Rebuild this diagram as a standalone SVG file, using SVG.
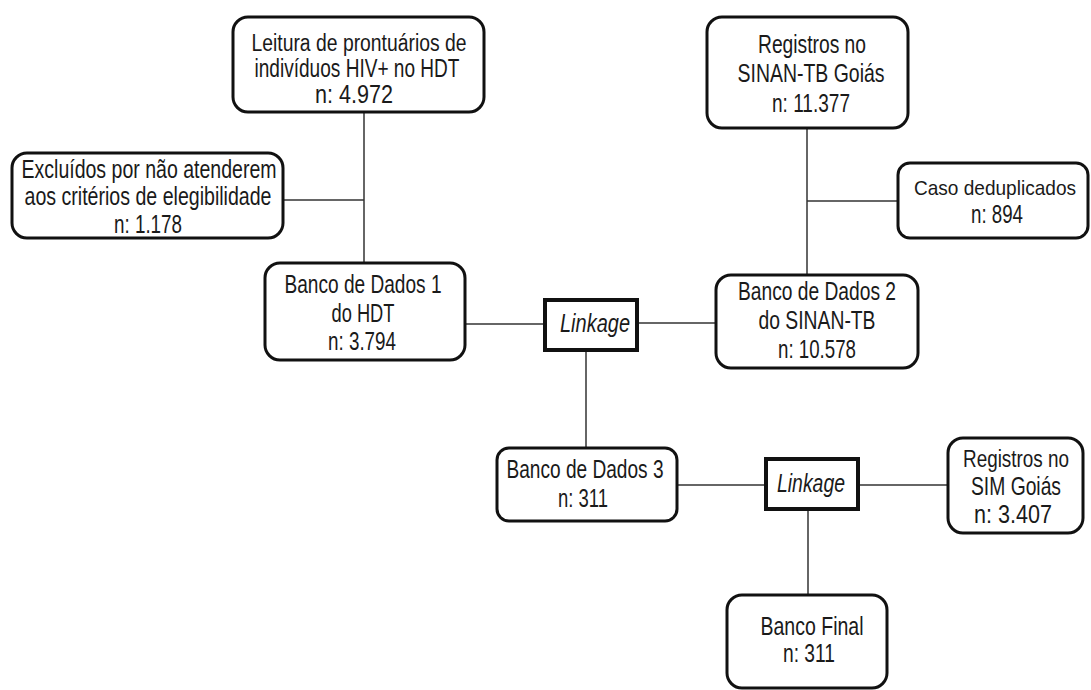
<svg xmlns="http://www.w3.org/2000/svg" width="1091" height="690" viewBox="0 0 1091 690">
<style>
.box{fill:#fff;stroke:#111;stroke-width:3}
.lk{fill:#fff;stroke:#111;stroke-width:4}
.c{stroke:#333;stroke-width:1.5;fill:none}
text{font-family:"Liberation Sans Narrow","Liberation Sans",Arial,sans-serif;font-size:25px;fill:#1a1a1a;text-anchor:middle}
.it{font-style:italic}
.sm{font-size:23px}
.xs{font-size:21px}
</style>
<rect width="1091" height="690" fill="#fff"/>
<g id="connectors">
<line class="c" x1="364" y1="112" x2="364" y2="263"/>
<line class="c" x1="283" y1="200" x2="364" y2="200"/>
<line class="c" x1="465" y1="324" x2="545" y2="324"/>
<line class="c" x1="637" y1="323" x2="716" y2="323"/>
<line class="c" x1="807" y1="128" x2="807" y2="275"/>
<line class="c" x1="807" y1="201" x2="898" y2="201"/>
<line class="c" x1="586" y1="350" x2="586" y2="448"/>
<line class="c" x1="677" y1="485" x2="766" y2="485"/>
<line class="c" x1="858" y1="485" x2="948" y2="485"/>
<line class="c" x1="808" y1="509" x2="808" y2="595"/>
</g>
<g id="n_leitura">
<rect class="box" x="233" y="17" width="251" height="95" rx="15"/>
<text class="sm" x="359" y="51" textLength="215" lengthAdjust="spacingAndGlyphs">Leitura de prontuários de</text>
<text x="357" y="77" textLength="205" lengthAdjust="spacingAndGlyphs">indivíduos HIV+ no HDT</text>
<text x="354" y="103" textLength="78" lengthAdjust="spacingAndGlyphs">n: 4.972</text>
</g>
<g id="n_excluidos">
<rect class="box" x="12" y="153" width="271" height="85" rx="15"/>
<text x="149" y="178" textLength="255" lengthAdjust="spacingAndGlyphs">Excluídos por não atenderem</text>
<text x="148" y="205" textLength="247" lengthAdjust="spacingAndGlyphs">aos critérios de elegibilidade</text>
<text x="148" y="233" textLength="68" lengthAdjust="spacingAndGlyphs">n: 1.178</text>
</g>
<g id="n_banco1">
<rect class="box" x="265" y="263" width="200" height="97" rx="15"/>
<text x="363" y="293" textLength="157" lengthAdjust="spacingAndGlyphs">Banco de Dados 1</text>
<text x="363" y="322" textLength="63" lengthAdjust="spacingAndGlyphs">do HDT</text>
<text x="362" y="350" textLength="68" lengthAdjust="spacingAndGlyphs">n: 3.794</text>
</g>
<g id="n_linkage1">
<rect class="lk" x="545" y="300" width="92" height="50"/>
<text class="it" x="595" y="332" textLength="70" lengthAdjust="spacingAndGlyphs">Linkage</text>
</g>
<g id="n_sinan">
<rect class="box" x="707" y="17" width="201" height="111" rx="15"/>
<text x="812" y="53" textLength="108" lengthAdjust="spacingAndGlyphs">Registros no</text>
<text x="811" y="82" textLength="147" lengthAdjust="spacingAndGlyphs">SINAN-TB Goiás</text>
<text x="811" y="112" textLength="78" lengthAdjust="spacingAndGlyphs">n: 11.377</text>
</g>
<g id="n_caso">
<rect class="box" x="898" y="163" width="190" height="75" rx="12"/>
<text class="xs" x="995" y="195" textLength="162" lengthAdjust="spacingAndGlyphs">Caso deduplicados</text>
<text x="997" y="223" textLength="52" lengthAdjust="spacingAndGlyphs">n: 894</text>
</g>
<g id="n_banco2">
<rect class="box" x="716" y="275" width="202" height="93" rx="15"/>
<text x="817" y="300" textLength="158" lengthAdjust="spacingAndGlyphs">Banco de Dados 2</text>
<text x="817" y="329" textLength="117" lengthAdjust="spacingAndGlyphs">do SINAN-TB</text>
<text x="817" y="358" textLength="78" lengthAdjust="spacingAndGlyphs">n: 10.578</text>
</g>
<g id="n_banco3">
<rect class="box" x="497" y="448" width="180" height="73" rx="12"/>
<text x="585" y="478" textLength="157" lengthAdjust="spacingAndGlyphs">Banco de Dados 3</text>
<text x="583" y="507" textLength="50" lengthAdjust="spacingAndGlyphs">n: 311</text>
</g>
<g id="n_linkage2">
<rect class="lk" x="766" y="459" width="92" height="50"/>
<text class="it" x="811" y="492" textLength="68" lengthAdjust="spacingAndGlyphs">Linkage</text>
</g>
<g id="n_sim">
<rect class="box" x="948" y="438" width="135" height="95" rx="15"/>
<text class="sm" x="1016" y="467" textLength="106" lengthAdjust="spacingAndGlyphs">Registros no</text>
<text x="1016" y="495" textLength="90" lengthAdjust="spacingAndGlyphs">SIM Goiás</text>
<text x="1013" y="523" textLength="78" lengthAdjust="spacingAndGlyphs">n: 3.407</text>
</g>
<g id="n_final">
<rect class="box" x="727" y="595" width="160" height="93" rx="15"/>
<text x="812" y="635" textLength="103" lengthAdjust="spacingAndGlyphs">Banco Final</text>
<text x="809" y="662" textLength="52" lengthAdjust="spacingAndGlyphs">n: 311</text>
</g>
</svg>
